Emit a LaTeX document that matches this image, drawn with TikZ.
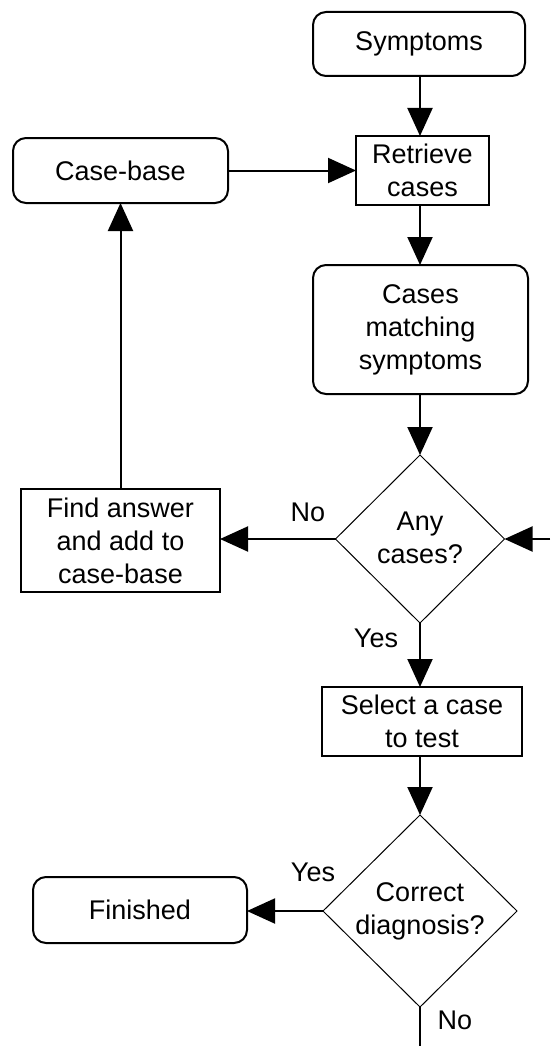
\documentclass[tikz,border=0pt]{standalone}
\usepackage{fontspec}
\setmainfont{Liberation Sans}
\usetikzlibrary{shapes.geometric,arrows.meta}
\begin{document}
\begin{tikzpicture}[x=1pt,y=-1pt,
  every node/.style={font=\fontsize{27}{33}\selectfont, align=center, inner sep=0pt, outer sep=0pt},
  terminal/.style={draw, line width=2pt, rounded corners=13pt},
  process/.style={draw, line width=2pt},
  decision/.style={draw, diamond, line width=1pt, aspect=1},
  flow/.style={line width=2pt, -{Triangle[length=28pt,width=25pt]}},
  plain/.style={line width=2pt}
]
\useasboundingbox (0,0) rectangle (550,1046);
\coordinate (col) at (420,0);

% boxes
\node[terminal, minimum width=212pt, minimum height=64pt] (sym) at (419,44) {Symptoms};
\node[process, minimum width=133pt, minimum height=69pt] (ret) at (422.5,170.5) {Retrieve\\cases};
\node[terminal, minimum width=215pt, minimum height=65pt] (cb) at (120.5,170.5) {Case-base};
\node[terminal, minimum width=215pt, minimum height=129pt] (cm) at (420.5,329.5) {Cases\\matching\\symptoms};
\node[decision, minimum width=169pt, minimum height=168pt] (any) at (420,539) {};
\node (anyt) at (420,538) {Any\\cases?};
\node[process, minimum width=199pt, minimum height=103pt] (find) at (120.5,540.5) {Find answer\\and add to\\case-base};
\node[process, minimum width=200pt, minimum height=69pt] (sel) at (422,721.5) {Select a case\\to test};
\node[decision, minimum width=194pt, minimum height=192pt] (cd) at (420,911) {};
\node (cdt) at (420,911) {Correct\\diagnosis?};
\node[terminal, minimum width=214pt, minimum height=66pt] (fin) at (140,910) {Finished};

% free ends
\coordinate (inR) at (550,539);
\coordinate (outB) at (420,1046);

% connectors
\draw[flow] (sym.south -| col) -- (ret.north -| col);
\draw[flow] (cb.east) -- (ret.west);
\draw[flow] (ret.south -| col) -- (cm.north -| col);
\draw[flow] (cm.south -| col) -- (any.north);
\draw[flow] (any.west) -- (any.west -| find.east);
\draw[flow] (find.north) -- (cb.south);
\draw[flow] (inR) -- (any.east);
\draw[flow] (any.south) -- (any.south |- sel.north);
\draw[flow] (sel.south -| col) -- (cd.north);
\draw[flow] (cd.west) -- (cd.west -| fin.east);
\draw[plain] (cd.south) -- (outB);

% branch labels
\node (noA) at (308,512) {No};
\node (yesA) at (376,638) {Yes};
\node (yesC) at (313,872) {Yes};
\node (noC) at (455,1020) {No};
\end{tikzpicture}
\end{document}
